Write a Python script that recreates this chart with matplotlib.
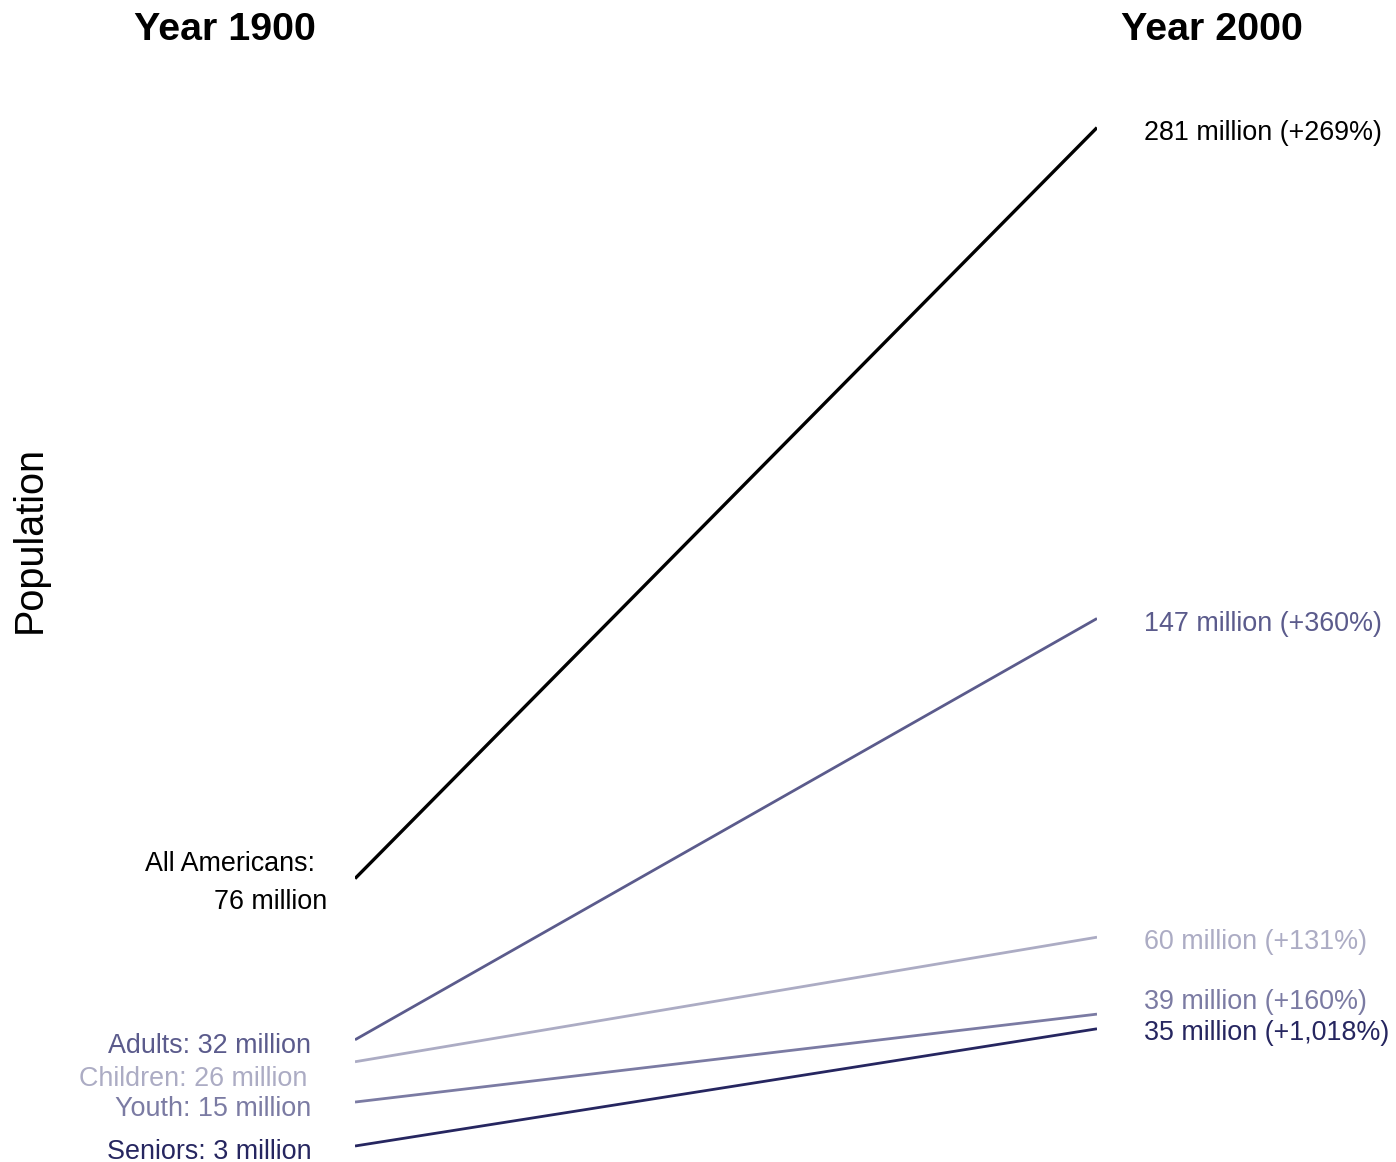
import matplotlib
matplotlib.use("Agg")
import matplotlib.pyplot as plt

plt.rcParams['font.family'] = ['Liberation Sans', 'DejaVu Sans']

# population in millions
groups = ["All Americans", "Adults", "Children", "Youth", "Seniors"]
pop_1900 = [76, 32, 26, 15, 3]
pop_2000 = [281, 147, 60, 39, 35]
change_labels = ["+269%", "+360%", "+131%", "+160%", "+1,018%"]
colors = ["#000000", "#5b5b8c", "#acacc4", "#7b7ba3", "#262660"]
widths = [2.4, 2.0, 2.0, 2.0, 2.0]

# small vertical nudges (millions) so labels do not collide
left_nudge = [0, -1.8, -4.8, -1.8, -1.5]
right_nudge = [-1.5, -1.6, -1.2, 3.4, -1.2]

W, H = 1396, 1162
fig = plt.figure(figsize=(W / 100, H / 100), dpi=100)
ax = fig.add_axes([355 / W, 5 / H, (1097 - 355) / W, 1099 / H])
ax.set_xlim(1900, 2000)
ax.set_ylim(0, 300)
ax.axis("off")

fs = 19.4
for i, g in enumerate(groups):
    ax.plot([1900, 2000], [pop_1900[i], pop_2000[i]], color=colors[i],
            lw=widths[i], solid_capstyle="butt")
    if i == 0:
        ax.text(1894.6, pop_1900[i] + 4.0, "All Americans:", ha="right",
                va="center", fontsize=fs, color=colors[i])
        ax.text(1896.3, pop_1900[i] - 6.4, "%d million" % pop_1900[i],
                ha="right", va="center", fontsize=fs, color=colors[i])
    else:
        xr = 1893.6 if g == "Children" else 1894.1
        ax.text(xr, pop_1900[i] + left_nudge[i],
                "%s: %d million" % (g, pop_1900[i]), ha="right", va="center",
                fontsize=fs, color=colors[i])
    ax.text(2006.4, pop_2000[i] + right_nudge[i],
            "%d million (%s)" % (pop_2000[i], change_labels[i]),
            ha="left", va="center", fontsize=fs, color=colors[i])

fig.text(225 / W, 1 - 30 / H, "Year 1900", ha="center", va="center",
         fontsize=28.4, fontweight="bold")
fig.text(1212 / W, 1 - 30 / H, "Year 2000", ha="center", va="center",
         fontsize=28.4, fontweight="bold")
fig.text(30 / W, 1 - 539 / H, "Population", ha="center", va="center",
         fontsize=28.5, rotation=90)

fig.savefig("out.png", dpi=100)
